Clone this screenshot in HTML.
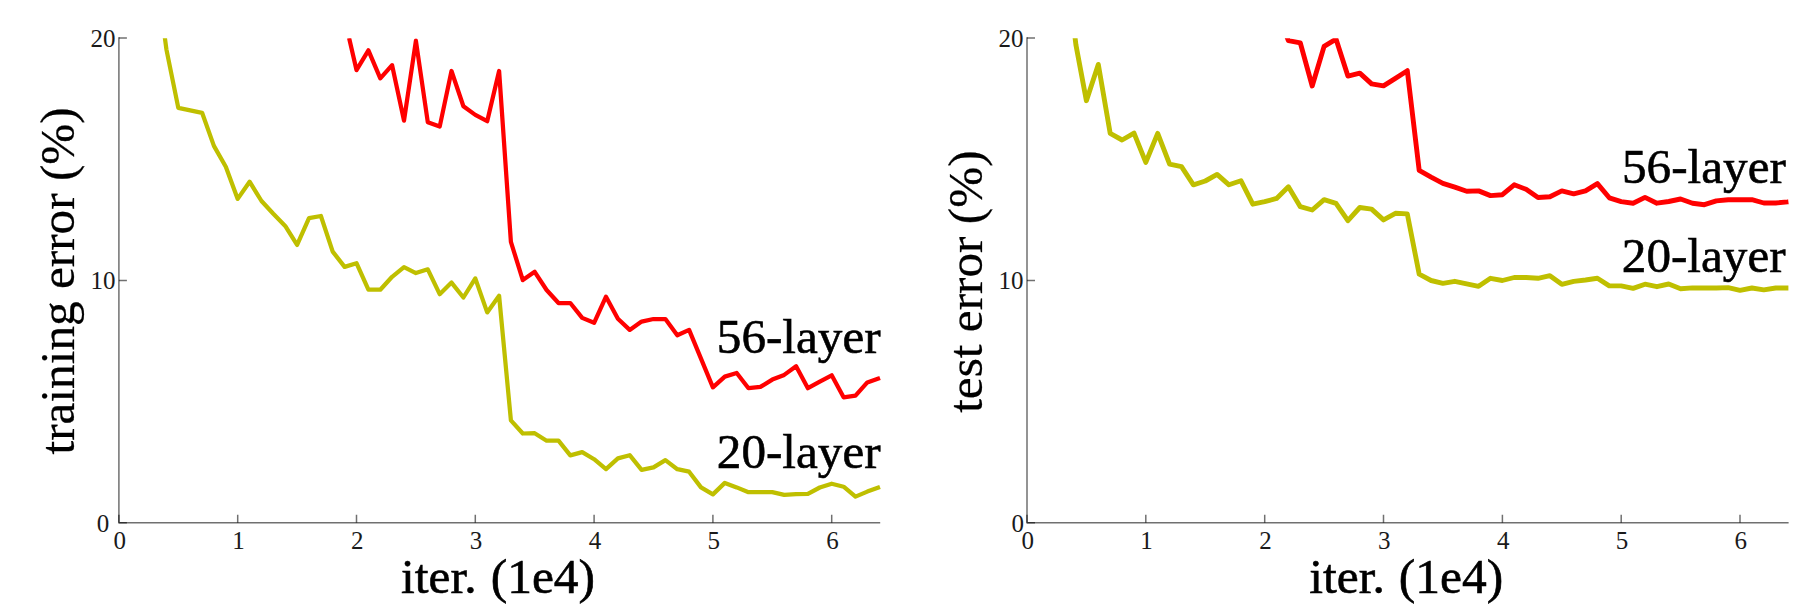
<!DOCTYPE html>
<html lang="en">
<head>
<meta charset="utf-8">
<title>Training and test error: 20-layer vs 56-layer</title>
<style>
html,body{margin:0;padding:0;background:#fff;}
body{width:1811px;height:614px;overflow:hidden;}
svg{display:block;font-family:"Liberation Serif","Times New Roman",serif;fill:#000;}
.big{stroke:#000;stroke-width:0.6px;}
.rot{stroke-width:0.25px;}
.tk{fill:#1a1a1a;}
</style>
</head>
<body>
<svg width="1811" height="614" viewBox="0 0 1811 614">
<defs>
<clipPath id="clipL"><rect x="118.9" y="38.3" width="763.3" height="484.79999999999995"/></clipPath>
<clipPath id="clipR"><rect x="1027.0" y="38.3" width="763.6" height="484.79999999999995"/></clipPath>
</defs>
<rect width="1811" height="614" fill="#fff"/>
<path d="M118.9 37.3 V522.8 H880.2" fill="none" stroke="#000" stroke-opacity="0.56" stroke-width="1.5"/>
<path d="M118.9 522.8 v-8 M237.7 522.8 v-8 M356.5 522.8 v-8 M475.3 522.8 v-8 M594.1 522.8 v-8 M712.9 522.8 v-8 M831.7 522.8 v-8 M118.9 522.8 h8 M118.9 280.4 h8 M118.9 38.0 h8" fill="none" stroke="#000" stroke-opacity="0.56" stroke-width="1.5"/>
<g class="tk" font-size="25" text-anchor="middle">
<text x="119.7" y="548.6">0</text>
<text x="238.5" y="548.6">1</text>
<text x="357.3" y="548.6">2</text>
<text x="476.1" y="548.6">3</text>
<text x="594.9" y="548.6">4</text>
<text x="713.7" y="548.6">5</text>
<text x="832.5" y="548.6">6</text>
</g>
<g class="tk" font-size="25" text-anchor="end">
<text x="109.2" y="531.8">0</text>
<text x="115.5" y="289.4">10</text>
<text x="115.5" y="47.0">20</text>
</g>
<text x="498.1" y="593.2" class="big" font-size="49.5" word-spacing="1.6" text-anchor="middle">iter. (1e4)</text>
<text transform="translate(73.5 280.9) rotate(-90)" class="big rot" font-size="49.25" text-anchor="middle">training error (%)</text>
<g fill="none" stroke-width="4.25" stroke-linejoin="round" clip-path="url(#clipL)">
<path d="M164.5 35.0 L166.4 49.3 L178.3 107.9 L202.1 112.8 L213.9 145.9 L225.8 166.7 L237.7 198.9 L249.6 181.7 L261.5 201.0 L273.3 213.8 L285.2 225.9 L297.1 244.9 L309.0 218.1 L320.9 216.0 L332.7 251.6 L344.6 266.9 L356.5 263.2 L368.4 289.7 L380.3 289.7 L392.1 276.8 L404.0 267.2 L415.9 273.1 L427.8 269.3 L439.7 294.2 L451.5 282.6 L463.4 297.5 L475.3 278.4 L487.2 312.4 L499.1 295.8 L510.9 420.3 L522.8 433.5 L534.7 433.2 L546.6 440.7 L558.5 440.7 L570.3 455.4 L582.2 452.1 L594.1 459.2 L606.0 469.1 L617.9 458.4 L629.7 455.2 L641.6 469.9 L653.5 467.4 L665.4 460.1 L677.3 469.2 L689.1 471.7 L701.0 487.4 L712.9 494.4 L724.8 482.9 L736.7 487.4 L748.5 492.2 L760.4 492.1 L772.3 492.1 L784.2 494.9 L796.1 494.1 L807.9 493.8 L819.8 487.5 L831.7 483.7 L843.6 486.7 L855.5 496.6 L867.3 491.6 L879.2 487.2 L880.0 486.9" stroke="#bfbf00"/>
<path d="M349.1 38.0 L356.5 70.1 L368.4 50.3 L380.3 78.4 L392.1 65.2 L404.0 120.6 L415.9 40.7 L427.8 122.2 L439.7 126.6 L451.5 71.0 L463.4 106.3 L475.3 114.9 L487.2 121.2 L499.1 71.0 L510.9 241.9 L522.8 280.1 L534.7 271.8 L546.6 290.0 L558.5 303.0 L570.3 303.0 L582.2 317.9 L594.1 322.8 L606.0 296.7 L617.9 318.8 L629.7 329.9 L641.6 321.6 L653.5 319.0 L665.4 319.0 L677.3 335.2 L689.1 329.9 L712.9 387.4 L724.8 376.6 L736.7 373.0 L748.5 388.2 L760.4 386.9 L772.3 379.6 L784.2 374.9 L796.1 366.2 L807.9 388.2 L819.8 381.6 L831.7 375.3 L843.6 397.3 L855.5 395.6 L867.3 382.4 L879.2 378.3 L880.0 378.0" stroke="#ff0000"/>
</g>
<text x="716.8" y="353.3" class="big" font-size="49.2">56-layer</text>
<text x="716.8" y="468.4" class="big" font-size="49.2">20-layer</text>
<path d="M1027.0 37.3 V522.8 H1788.6" fill="none" stroke="#000" stroke-opacity="0.56" stroke-width="1.5"/>
<path d="M1027.0 522.8 v-8 M1145.8 522.8 v-8 M1264.7 522.8 v-8 M1383.5 522.8 v-8 M1502.4 522.8 v-8 M1621.2 522.8 v-8 M1740.0 522.8 v-8 M1027.0 522.8 h8 M1027.0 280.4 h8 M1027.0 38.0 h8" fill="none" stroke="#000" stroke-opacity="0.56" stroke-width="1.5"/>
<g class="tk" font-size="25" text-anchor="middle">
<text x="1027.8" y="548.6">0</text>
<text x="1146.6" y="548.6">1</text>
<text x="1265.5" y="548.6">2</text>
<text x="1384.3" y="548.6">3</text>
<text x="1503.2" y="548.6">4</text>
<text x="1622.0" y="548.6">5</text>
<text x="1740.8" y="548.6">6</text>
</g>
<g class="tk" font-size="25" text-anchor="end">
<text x="1023.9" y="531.8">0</text>
<text x="1023.6" y="289.4">10</text>
<text x="1023.6" y="47.0">20</text>
</g>
<text x="1406.3" y="593.2" class="big" font-size="49.5" word-spacing="1.6" text-anchor="middle">iter. (1e4)</text>
<text transform="translate(981.6 281.6) rotate(-90)" class="big rot" font-size="49.25" text-anchor="middle">test error (%)</text>
<g fill="none" stroke-width="4.9" stroke-linejoin="round" clip-path="url(#clipR)">
<path d="M1074.8 35.5 L1075.9 44.8 L1086.4 100.7 L1098.3 64.4 L1110.2 133.4 L1122.1 140.0 L1134.0 133.1 L1145.8 162.4 L1157.7 133.4 L1169.6 164.2 L1181.5 166.6 L1193.4 184.8 L1205.3 181.0 L1217.1 174.4 L1229.0 184.8 L1240.9 180.7 L1252.8 204.2 L1264.7 201.7 L1276.6 198.4 L1288.4 186.8 L1300.3 206.7 L1312.2 210.0 L1324.1 199.7 L1336.0 203.3 L1347.9 220.7 L1359.8 207.5 L1371.6 209.1 L1383.5 219.9 L1395.4 213.3 L1407.3 213.9 L1419.2 274.2 L1431.1 280.5 L1442.9 283.3 L1454.8 281.3 L1466.7 283.8 L1478.6 286.3 L1490.5 278.3 L1502.4 280.5 L1514.2 277.5 L1526.1 277.5 L1538.0 278.3 L1549.9 275.7 L1561.8 284.3 L1573.7 281.4 L1585.5 280.0 L1597.4 278.3 L1609.3 285.9 L1621.2 285.9 L1633.1 288.4 L1645.0 284.2 L1656.9 286.7 L1668.7 284.0 L1680.6 288.7 L1692.5 287.9 L1704.4 288.0 L1716.3 288.0 L1728.2 287.6 L1740.0 290.3 L1751.9 288.0 L1763.8 289.8 L1775.7 288.0 L1787.6 288.0 L1788.4 288.0" stroke="#bfbf00"/>
<path d="M1286.2 35.0 L1288.4 40.6 L1300.3 42.8 L1312.2 86.0 L1324.1 46.4 L1336.0 39.1 L1347.9 76.1 L1359.8 73.1 L1371.6 83.9 L1383.5 85.9 L1395.4 78.4 L1407.3 70.7 L1419.2 170.4 L1431.1 177.2 L1442.9 183.4 L1454.8 187.1 L1466.7 191.2 L1478.6 190.9 L1490.5 195.6 L1502.4 194.7 L1514.2 184.8 L1526.1 189.3 L1538.0 197.5 L1549.9 196.8 L1561.8 190.9 L1573.7 193.8 L1585.5 190.9 L1597.4 183.6 L1609.3 197.8 L1621.2 201.6 L1633.1 203.2 L1645.0 197.4 L1656.9 203.2 L1668.7 201.5 L1680.6 199.0 L1692.5 203.2 L1704.4 204.7 L1716.3 200.9 L1728.2 199.7 L1740.0 199.7 L1751.9 199.7 L1763.8 203.0 L1775.7 203.0 L1787.6 201.9 L1788.4 201.8" stroke="#ff0000"/>
</g>
<text x="1622.0" y="182.9" class="big" font-size="49.2">56-layer</text>
<text x="1621.8" y="272.1" class="big" font-size="49.2">20-layer</text>
</svg>
</body>
</html>
